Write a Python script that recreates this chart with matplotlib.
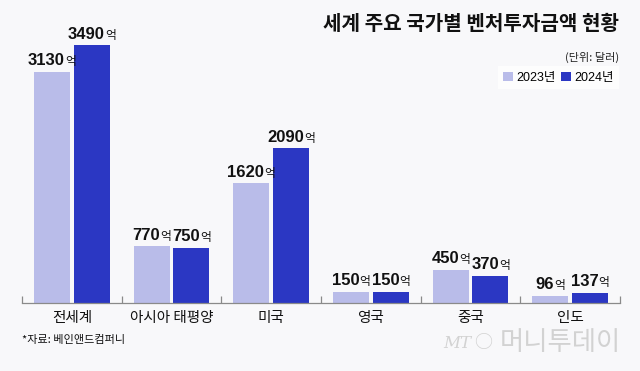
import matplotlib
matplotlib.use("Agg")
import matplotlib.pyplot as plt
from matplotlib import font_manager
from matplotlib.offsetbox import TextArea, HPacker, AnnotationBbox
from matplotlib.patches import Patch
import numpy as np

categories = ["전세계", "아시아 태평양", "미국", "영국", "중국", "인도"]
values_2023 = [3130, 770, 1620, 150, 450, 96]
values_2024 = [3490, 750, 2090, 150, 370, 137]
series_names = ["2023년", "2024년"]

title = "세계 주요 국가별 벤처투자금액 현황"
unit = "(단위: 달러)"
source = "*자료: 베인앤드컴퍼니"

KR = "Noto Sans CJK KR"
names = {f.name for f in font_manager.fontManager.ttflist}
NUM = "Liberation Sans Narrow" if "Liberation Sans Narrow" in names else "Liberation Sans"

plt.rcParams["font.family"] = [KR, "DejaVu Sans"]

BG = "#f8f8fa"
C23 = "#b9bce9"
C24 = "#2b37c3"

W, H = 640, 371
fig = plt.figure(figsize=(W / 100, H / 100), dpi=100, facecolor=BG)

ymax = 4000
px_per_unit = 258 / 3490
top_px = 303 - ymax * px_per_unit
ax = fig.add_axes([22 / W, (H - 303) / H, (620 - 22) / W, (303 - top_px) / H])
ax.set_facecolor(BG)
ax.set_xlim(0, 6)
ax.set_ylim(0, ymax)

x = np.arange(len(categories))
bw = 0.36
ax.bar(x + 0.30, values_2023, bw, color=C23, zorder=2)
ax.bar(x + 0.70, values_2024, bw, color=C24, zorder=2)

for s in ["top", "left", "right"]:
    ax.spines[s].set_visible(False)
ax.spines["bottom"].set_color("#8a8a8a")
ax.spines["bottom"].set_linewidth(0.9)
ax.set_yticks([])
ax.set_xticks(np.arange(0, 7))
ax.set_xticklabels([])
ax.tick_params(axis="x", which="major", direction="in", length=5, color="#8a8a8a", width=0.9)
ax.set_xticks(x + 0.5, minor=True)
ax.set_xticklabels(categories, minor=True, fontsize=10.5, color="#111111")
ax.tick_params(axis="x", which="minor", length=0, pad=6)

def value_label(xc, v):
    num = TextArea(f"{v}", textprops=dict(family=NUM, fontweight="bold", fontsize=12, color="#111111"))
    suf = TextArea("억", textprops=dict(family=KR, fontsize=8.5, color="#111111"))
    pack = HPacker(children=[num, suf], align="baseline", pad=0, sep=0)
    ab = AnnotationBbox(pack, (xc, v), xybox=(0, 2.5), xycoords="data",
                        boxcoords="offset points", box_alignment=(0.5, 0),
                        frameon=False, pad=0, annotation_clip=False)
    ax.add_artist(ab)

for xi, v in zip(x + 0.30, values_2023):
    value_label(xi, v)
for xi, v in zip(x + 0.70, values_2024):
    value_label(xi, v)

fig.text(619 / W, 1 - 23 / H, title, ha="right", va="center", fontsize=14.5,
         fontweight="bold", color="#111111")
fig.text(619 / W, 1 - 57 / H, unit, ha="right", va="center", fontsize=8, color="#222222")

handles = [Patch(facecolor=C23, edgecolor="none"), Patch(facecolor=C24, edgecolor="none")]
leg = fig.legend(handles, series_names, loc="upper right",
                 bbox_to_anchor=(619 / W, 1 - 66 / H), ncol=2, fontsize=8,
                 frameon=True, fancybox=False, handlelength=0.85, handleheight=0.85,
                 handletextpad=0.3, columnspacing=0.5, borderpad=0.5, borderaxespad=0)
leg.get_frame().set_facecolor("white")
leg.get_frame().set_edgecolor("none")
for t in leg.get_texts():
    t.set_family([NUM, KR])
    t.set_fontsize(9)

fig.text(22 / W, 1 - 340 / H, source, ha="left", va="center", fontsize=8, color="#111111")

fig.text(443 / W, 1 - 343 / H, "MT", ha="left", va="center", fontsize=12, style="italic",
         family="DejaVu Serif", color="#d2d2d2")
fig.text(474 / W, 1 - 343 / H, "○", ha="left", va="center", fontsize=13, color="#d2d2d2")
fig.text(500 / W, 1 - 343 / H, "머니투데이", ha="left", va="center", fontsize=19,
         fontweight="light", color="#d2d2d2")

fig.savefig("out.png", dpi=100, facecolor=BG)
